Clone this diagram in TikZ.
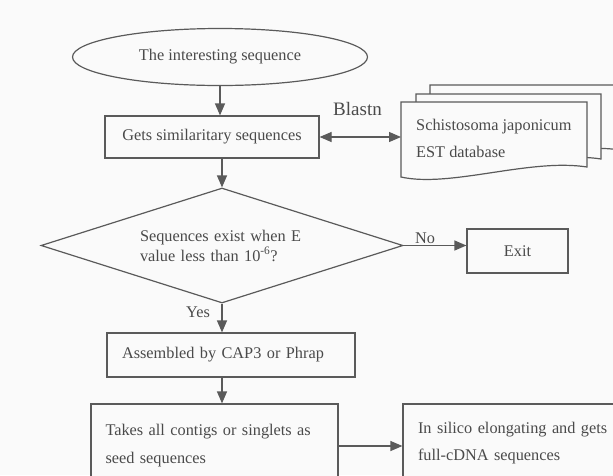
\documentclass[tikz,border=0pt]{standalone}
\usepackage{fontspec}
\setmainfont{Liberation Serif}
\usetikzlibrary{shapes.geometric,arrows.meta}
\definecolor{lncol}{HTML}{5A5A5A}
\definecolor{txcol}{HTML}{4A4A4A}
\definecolor{bgcol}{HTML}{FAFAFA}
\newcommand\mytxt{\fontsize{16.3}{20}\selectfont}
\newcommand\mytxtb{\fontsize{16.3}{28}\selectfont}
\newcommand\mytxtc{\fontsize{16.3}{27}\selectfont}
\begin{document}
\begin{tikzpicture}[x=1pt,y=-1pt,
  lnst/.style={draw=lncol,line width=1.2pt},
  box/.style={lnst,rectangle,fill=bgcol,inner sep=0pt,text=txcol,font=\mytxt},
  lbl/.style={text=txcol,font=\mytxt,inner sep=0pt},
  arr/.style={lnst,-{Triangle[length=12pt,width=10pt]}},
  darr/.style={lnst,{Triangle[length=12pt,width=10pt]}-{Triangle[length=12pt,width=10pt]}},
  docst/.style={lnst,fill=bgcol}]
\useasboundingbox (0,0) rectangle (613,475);
\fill[bgcol] (0,0) rectangle (613,475);
\clip (0,0) rectangle (613,475);

% start
\node[ellipse,lnst,fill=bgcol,minimum width=295pt,minimum height=57pt,inner sep=0pt,text=txcol,font=\mytxt] (ell) at (220,57) {The interesting sequence};
\node[box,minimum width=214pt,minimum height=42pt] (gets) at (212,137) {Gets similaritary sequences};

% database stack
\path[docst] (430,85) -- (620,85) -- (620,150) .. controls (563,141) and (479,171) .. (430,160) -- cycle;
\path[docst] (416,94) -- (601,94) -- (601,159) .. controls (545,150) and (465,180) .. (416,169) -- cycle;
\path[docst] (401,102) -- (587,102) -- (587,167) .. controls (530,158) and (450,188) .. (401,177) -- cycle;
\node[lbl,font=\mytxtc,align=left,anchor=west] (db) at (416,138.5) {Schistosoma japonicum\\EST database};
\coordinate (docL) at (401,137);
\node[lbl,font=\fontsize{19}{22}\selectfont] (blast) at (357.5,109) {Blastn};

% decision
\node[diamond,lnst,fill=bgcol,aspect=3.15,minimum width=362pt,minimum height=115pt,inner sep=0pt,text=txcol,font=\mytxt,text width=164pt,align=left] (dia) at (222,245.5)
  {\makebox[164pt][s]{Sequences exist when E}\\value less than 10\textsuperscript{-6}?};
\node[box,minimum width=101pt,minimum height=44pt] (exit) at (517.5,251) {Exit};
\node[lbl] (no) at (425,238) {No};
\node[lbl] (yes) at (198,312) {Yes};

% lower boxes
\node[box,minimum width=248pt,minimum height=44pt,text width=218pt,align=left] (asm) at (231,355) {Assembled by CAP3 or Phrap};
\node[box,minimum width=247pt,minimum height=84pt,text width=218pt,align=left,font=\mytxtb] (takes) at (214.5,446)
  {\makebox[218pt][s]{Takes all contigs or singlets as}\\seed sequences};
\node[box,minimum width=240pt,minimum height=78pt,text width=210pt,align=left,font=\mytxtc] (sil) at (523,443)
  {In silico elongating and gets\\full-cDNA sequences};

% connectors
\draw[arr] (ell.south) -- (ell.south |- gets.north);
\draw[darr] (gets.east) -- (docL);
\draw[arr] (dia.north |- gets.south) -- (dia.north);
\draw[arr] (dia.east) -- (dia.east -| exit.west);
\draw[arr] (dia.south) -- (dia.south |- asm.north);
\draw[arr] (asm.south -| dia.south) -- (dia.south |- takes.north);
\draw[arr] (takes.east) -- (takes.east -| sil.west);
\end{tikzpicture}
\end{document}
